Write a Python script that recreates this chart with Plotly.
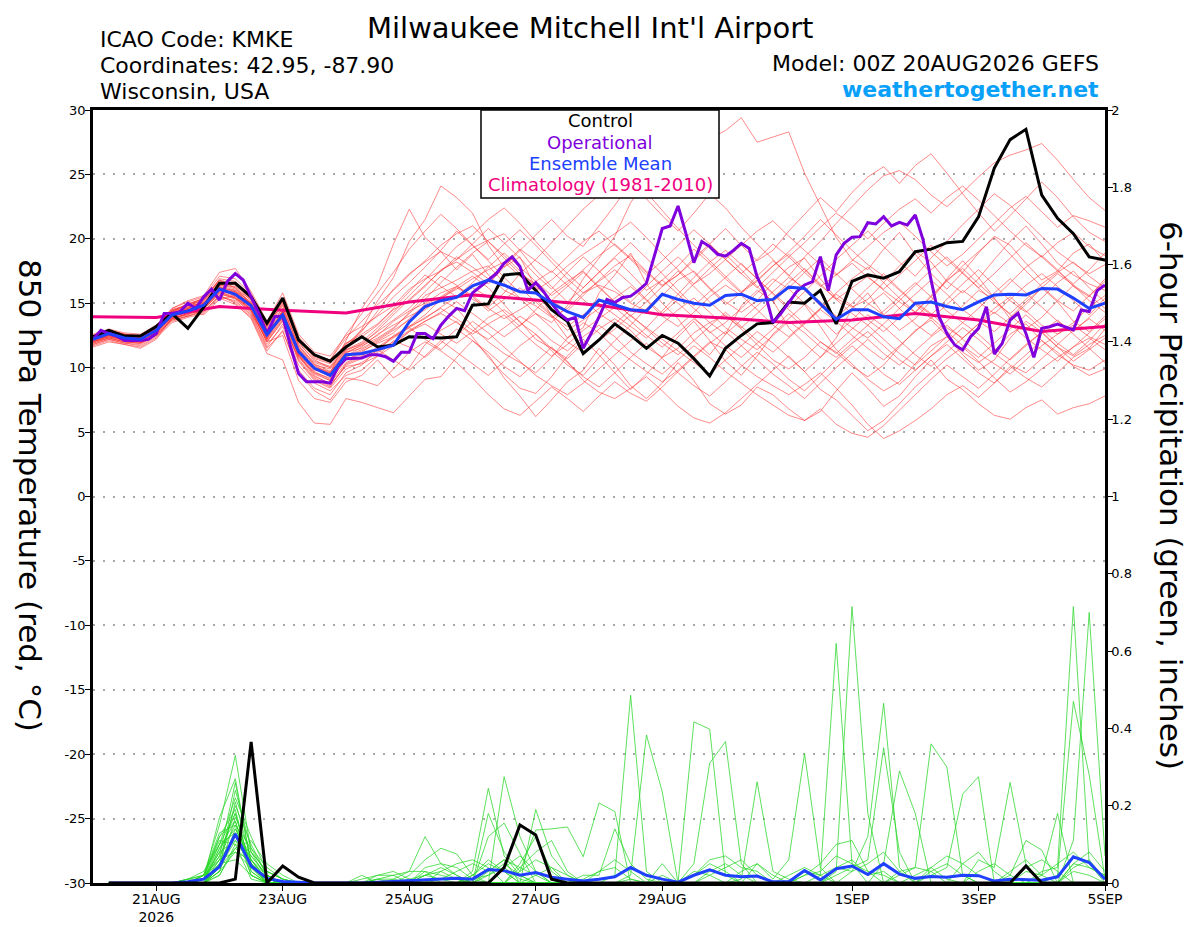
import datetime as dt
import plotly.graph_objects as go

# GEFS run start, 00Z 20 Aug 2026
run_start = dt.datetime(2026, 8, 20, 0)
run_end = dt.datetime(2026, 9, 5, 0)

# 850 hPa temperature (C), 6-hourly from 00Z 20 Aug (65 values)
control_t = [
    12.4, 12.9, 12.45, 12.45, 13.2, 14.2, 13.05, 14.7, 16.55, 16.55, 15.5, 13.45, 15.4, 12.15, 11.0, 10.5, 11.6,
    12.4, 11.6, 11.75, 12.4, 12.35, 12.3, 12.4, 14.85, 14.95, 17.2, 17.3, 16.0, 14.5, 13.6, 11.1, 12.15,
    13.4, 12.5, 11.5, 12.5, 11.9, 10.7, 9.35, 11.5, 12.5, 13.4, 13.5, 15.1, 15.0, 16.0, 13.4, 16.7,
    17.2, 16.95, 17.45, 19.0, 19.2, 19.7, 19.8, 21.7, 25.5, 27.7, 28.5, 23.4, 21.6, 20.4, 18.6, 18.35,
]
mean_t = [
    12.2, 12.65, 12.3, 12.2, 12.9, 14.1, 14.4, 14.85, 16.1, 15.7, 14.8, 12.55, 14.1, 11.25, 9.95, 9.4, 11.0,
    11.1, 11.4, 11.75, 13.55, 14.75, 15.2, 15.45, 16.35, 16.8, 16.4, 15.9, 15.8, 15.0, 14.35, 13.9, 15.25,
    14.85, 14.5, 14.4, 15.7, 15.3, 15.0, 14.85, 15.6, 15.7, 15.2, 15.3, 16.25, 16.15, 14.95, 13.75, 14.5,
    14.5, 13.95, 13.8, 15.0, 15.1, 14.75, 14.5, 15.1, 15.65, 15.7, 15.65, 16.15, 16.1, 15.4, 14.6, 15.0,
]
# operational run, 3-hourly (129 values)
oper_t = [
    12.2, 12.9, 12.65, 12.45, 12.1, 12.1, 12.1, 12.2, 12.65, 14.2, 14.2, 14.35, 15.0, 14.6, 15.5, 16.1,
    15.25, 16.7, 17.3, 16.8, 15.5, 14.2, 12.65, 13.95, 14.0, 11.6, 9.55, 8.9, 8.9, 8.9, 8.8, 10.1,
    10.7, 10.75, 10.75, 11.0, 11.0, 10.85, 10.5, 11.2, 11.2, 12.65, 12.65, 12.25, 13.3, 14.0, 14.6, 14.42,
    15.8, 16.3, 16.8, 17.3, 18.1, 18.6, 17.85, 16.0, 16.6, 15.9, 15.0, 14.2, 13.7, 13.9, 11.5, 12.65,
    13.95, 15.3, 15.05, 15.45, 15.55, 16.0, 16.55, 18.6, 20.8, 21.0, 22.55, 20.4, 18.15, 19.8, 19.4, 18.8,
    18.65, 19.1, 19.65, 19.25, 17.05, 15.8, 13.5, 14.2, 15.1, 15.9, 16.42, 16.68, 18.62, 15.98, 18.75, 19.65,
    20.12, 20.17, 21.25, 21.15, 21.72, 21.0, 21.28, 21.07, 21.85, 19.9, 16.8, 13.96, 12.66, 11.76, 11.37, 12.4,
    13.05, 14.73, 11.06, 11.89, 13.7, 14.22, 12.66, 10.8, 13.05, 13.18, 13.39, 13.18, 12.93, 14.48, 14.35, 15.98,
    16.42,
]
# 1981-2010 climatology, daily at 00Z (17 values)
climo_t = [13.95, 13.9, 14.75, 14.45, 14.25, 15.1, 15.65, 15.25, 14.85,
           14.1, 13.85, 13.5, 13.7, 14.2, 13.7, 12.8, 13.2]

# ensemble members, 6-hourly (30 x 65 values)
member_t = [
    [12.0, 12.4, 12.1, 12.0, 12.6, 14.3, 15.0, 15.3, 16.8, 16.2, 14.9, 12.9, 13.8, 11.9, 10.6, 10.0, 11.5,
     13.0, 15.2, 17.0, 19.8, 21.5, 24.1, 23.2, 22.0, 19.5, 17.8, 18.6, 16.2, 14.0, 12.3, 13.1, 15.8,
     17.2, 18.9, 16.5, 15.0, 13.8, 12.1, 11.0, 12.6, 14.8, 16.0, 15.2, 13.1, 11.9, 10.8, 12.3, 14.6,
     15.8, 14.1, 12.9, 13.8, 15.2, 16.9, 18.3, 17.0, 15.4, 13.8, 14.9, 16.2, 15.1, 13.6, 12.8, 14.0],
    [12.5, 12.9, 12.6, 12.4, 13.0, 13.8, 14.2, 14.6, 15.9, 15.4, 14.2, 12.2, 14.5, 11.0, 9.8, 9.6, 12.1,
     14.6, 16.4, 19.6, 22.3, 20.1, 19.0, 17.6, 18.8, 17.2, 16.0, 15.4, 14.2, 13.5, 14.8, 16.9, 18.5,
     20.2, 22.8, 24.5, 23.4, 25.6, 26.9, 27.8, 28.4, 29.4, 27.5, 27.9, 28.3, 25.1, 22.6, 20.1, 18.4,
     17.6, 19.2, 20.5, 18.8, 17.3, 16.1, 17.4, 18.9, 20.2, 19.5, 18.1, 16.8, 17.5, 18.9, 19.6, 18.2],
    [11.8, 12.2, 11.9, 11.7, 12.4, 13.6, 14.0, 14.3, 15.6, 15.0, 13.8, 11.1, 10.6, 7.3, 5.7, 5.6, 7.6,
     7.3, 6.9, 6.5, 7.8, 9.1, 9.3, 10.8, 12.1, 11.0, 9.2, 7.8, 6.2, 7.5, 8.9, 9.8, 11.5,
     10.2, 8.6, 7.6, 8.8, 10.4, 9.0, 7.2, 6.4, 7.1, 8.5, 7.9, 6.8, 5.9, 6.6, 8.2, 9.6,
     8.4, 7.0, 7.8, 9.3, 10.6, 9.1, 8.3, 7.2, 6.3, 6.0, 6.9, 7.5, 6.4, 6.9, 7.2, 7.8],
    [11.6, 12.0, 11.8, 11.5, 12.2, 13.9, 14.5, 14.1, 15.3, 15.6, 14.5, 12.0, 12.5, 9.0, 7.6, 7.3, 8.9,
     9.4, 10.6, 9.2, 10.0, 11.8, 12.9, 13.6, 12.4, 10.8, 9.5, 8.4, 8.0, 9.3, 10.9, 12.2, 11.0,
     9.6, 8.3, 9.5, 10.8, 12.4, 13.6, 12.1, 10.5, 9.4, 10.9, 12.6, 13.8, 14.9, 13.2, 11.4, 10.3,
     9.1, 8.2, 8.9, 10.3, 11.7, 12.4, 11.0, 9.8, 10.6, 12.3, 13.6, 12.8, 11.6, 10.9, 11.8, 12.5],
    [12.3, 12.8, 12.5, 12.3, 13.1, 14.2, 14.6, 15.1, 16.4, 16.0, 15.1, 13.0, 14.6, 11.8, 10.3, 9.7, 11.2,
     11.5, 12.2, 13.0, 14.3, 15.6, 16.2, 16.8, 17.5, 17.9, 16.6, 15.4, 14.8, 13.9, 14.6, 15.8, 16.4,
     15.9, 15.0, 14.4, 15.6, 16.8, 17.5, 16.2, 15.1, 14.3, 15.2, 16.6, 17.8, 18.5, 16.9, 15.4, 14.7,
     15.3, 16.6, 17.9, 19.0, 18.2, 16.7, 15.8, 16.9, 18.4, 19.8, 21.0, 19.6, 18.1, 17.2, 16.5, 16.0],
    [12.1, 12.5, 12.2, 12.1, 12.7, 14.0, 14.3, 14.7, 16.0, 15.9, 14.9, 12.4, 14.3, 11.0, 9.4, 8.7, 10.1,
     10.3, 10.9, 11.7, 12.8, 13.4, 12.6, 11.9, 12.8, 13.9, 14.5, 13.6, 12.2, 11.5, 10.7, 11.9, 13.0,
     13.8, 12.9, 11.6, 10.8, 11.5, 12.7, 13.5, 14.1, 13.0, 11.8, 10.6, 9.9, 10.8, 12.0, 11.2, 10.1,
     9.3, 10.2, 11.6, 12.9, 13.7, 12.5, 11.2, 10.4, 11.3, 12.6, 13.4, 12.1, 11.0, 10.2, 9.8, 10.6],
    [12.4, 12.7, 12.4, 12.3, 13.0, 14.4, 14.9, 15.4, 16.7, 16.4, 15.3, 13.4, 15.2, 12.3, 10.8, 10.4, 11.9,
     12.6, 13.4, 14.5, 15.2, 16.3, 17.6, 18.2, 17.4, 16.5, 17.8, 19.1, 20.3, 21.5, 20.2, 19.4, 21.0,
     22.6, 24.3, 23.1, 21.8, 20.6, 22.0, 23.5, 22.4, 20.9, 19.6, 18.4, 17.1, 18.6, 19.8, 21.2, 22.5,
     23.8, 24.9, 25.3, 24.6, 23.4, 22.5, 23.6, 24.8, 25.9, 26.5, 26.9, 27.4, 26.1, 24.6, 23.2, 22.2],
    [12.2, 12.6, 12.3, 12.2, 12.8, 13.9, 14.1, 14.9, 16.3, 15.5, 14.4, 12.0, 13.7, 10.6, 9.1, 8.5, 10.3,
     10.8, 11.3, 12.5, 13.2, 14.1, 15.3, 14.6, 13.2, 12.0, 11.1, 10.4, 9.6, 10.8, 12.3, 13.5, 12.7,
     11.5, 10.6, 9.7, 8.9, 9.8, 10.9, 12.0, 11.4, 10.2, 9.3, 8.6, 7.9, 8.7, 9.6, 8.4, 7.1,
     5.6, 4.5, 5.1, 5.9, 6.8, 7.9, 8.6, 7.7, 8.8, 10.1, 9.2, 8.5, 9.6, 10.8, 11.5, 10.4],
    [12.6, 13.0, 12.7, 12.6, 13.3, 14.5, 14.8, 15.0, 16.1, 15.8, 15.0, 12.8, 14.0, 11.5, 10.2, 9.5, 11.3,
     11.9, 12.8, 13.7, 14.6, 15.9, 17.1, 16.4, 15.3, 14.7, 15.8, 17.3, 16.5, 15.2, 14.4, 15.6, 16.8,
     17.9, 18.7, 17.5, 16.4, 17.2, 18.5, 19.6, 20.8, 19.5, 18.3, 19.1, 20.6, 21.9, 23.2, 22.1, 23.6,
     24.8, 25.6, 24.3, 25.7, 26.6, 25.1, 23.5, 22.0, 20.6, 21.8, 23.1, 24.4, 23.2, 21.7, 20.5, 19.8],
    [12.0, 12.3, 12.0, 11.9, 12.5, 13.7, 14.0, 14.5, 15.8, 15.3, 14.3, 11.6, 13.4, 10.8, 9.6, 9.0, 10.6,
     11.2, 12.0, 12.7, 13.8, 14.9, 15.5, 16.3, 17.1, 16.2, 14.9, 13.5, 12.6, 11.3, 10.2, 9.4, 10.8,
     12.1, 13.3, 14.6, 15.8, 15.0, 13.9, 12.7, 13.5, 14.6, 15.8, 16.9, 16.1, 15.0, 13.8, 12.6, 13.7,
     14.9, 15.8, 14.6, 13.4, 12.5, 13.6, 14.8, 16.0, 15.3, 14.1, 13.0, 13.9, 15.2, 16.4, 15.6, 14.6],
    [12.3, 12.7, 12.4, 12.4, 13.2, 14.6, 15.2, 15.6, 17.4, 17.7, 15.9, 13.6, 15.8, 12.6, 11.2, 10.9, 12.5,
     13.2, 14.0, 14.8, 16.1, 16.9, 17.5, 18.4, 19.3, 19.9, 20.4, 19.1, 17.6, 16.3, 15.1, 16.2, 17.4,
     18.5, 17.3, 16.0, 16.8, 17.9, 19.2, 18.1, 16.9, 15.8, 16.7, 17.9, 18.8, 17.6, 16.4, 15.3, 16.2,
     17.1, 16.0, 15.1, 14.3, 15.6, 16.8, 17.7, 16.5, 15.4, 16.6, 17.8, 18.7, 17.6, 16.3, 15.5, 16.9],
    [11.9, 12.3, 12.0, 11.9, 12.6, 13.8, 14.2, 14.4, 15.5, 15.2, 14.1, 11.8, 13.2, 10.2, 8.8, 8.2, 9.4,
     9.8, 10.9, 12.1, 11.6, 10.8, 11.9, 13.0, 12.1, 11.2, 10.1, 9.3, 10.4, 11.6, 10.5, 9.0, 8.1,
     7.6, 8.4, 9.3, 8.2, 7.0, 6.1, 5.7, 6.5, 7.6, 8.7, 9.8, 10.9, 9.7, 8.3, 7.5, 6.3,
     5.1, 5.9, 7.2, 8.5, 9.6, 10.7, 11.6, 10.5, 9.2, 8.1, 8.9, 9.9, 10.8, 11.6, 12.3, 11.4],
    [12.2, 12.5, 12.2, 12.1, 12.8, 14.1, 14.4, 14.7, 15.9, 15.8, 14.9, 12.5, 14.4, 11.3, 9.9, 9.3, 10.8,
     11.3, 11.9, 12.4, 13.2, 13.8, 14.7, 15.5, 16.2, 15.5, 14.3, 13.2, 14.5, 15.8, 16.7, 17.5, 16.3,
     15.1, 14.0, 13.1, 14.4, 15.7, 17.0, 18.2, 19.1, 18.0, 16.9, 15.8, 14.7, 15.9, 17.1, 18.4, 19.5,
     20.6, 19.4, 18.2, 17.1, 18.5, 19.8, 21.1, 22.3, 23.5, 22.6, 21.4, 20.2, 19.0, 18.1, 17.3, 18.0],
    [12.4, 12.8, 12.5, 12.4, 13.1, 14.3, 14.6, 15.2, 16.5, 16.1, 15.3, 13.1, 14.8, 11.7, 10.2, 9.9, 11.4,
     11.8, 12.5, 13.6, 14.4, 15.0, 15.8, 16.3, 15.6, 14.6, 13.8, 14.5, 15.3, 14.1, 12.9, 13.7, 14.6,
     15.4, 16.3, 15.2, 14.0, 13.2, 14.3, 15.5, 16.4, 15.6, 14.5, 13.3, 12.4, 13.5, 14.6, 15.7, 14.8,
     13.7, 12.8, 13.9, 15.1, 14.2, 13.1, 12.3, 13.4, 14.6, 15.5, 14.4, 13.3, 12.6, 13.5, 14.7, 15.6],
    [11.7, 12.1, 11.8, 11.6, 12.3, 13.5, 13.9, 14.2, 15.4, 14.9, 13.9, 11.3, 12.9, 9.6, 8.2, 7.5, 9.2,
     9.0, 8.6, 9.9, 11.2, 12.0, 11.3, 10.4, 9.2, 7.9, 6.8, 6.3, 7.4, 8.5, 7.6, 6.6, 7.8,
     8.9, 8.0, 7.4, 8.5, 9.7, 10.8, 11.9, 12.8, 11.7, 10.6, 9.5, 8.6, 7.6, 8.8, 10.0, 11.1,
     12.2, 11.1, 10.2, 11.3, 12.4, 13.3, 12.2, 11.1, 10.3, 9.5, 10.6, 11.7, 12.6, 13.3, 12.4, 11.8],
    [12.1, 12.4, 12.2, 12.0, 12.7, 13.9, 14.6, 15.0, 16.2, 16.0, 15.0, 12.7, 14.1, 11.1, 9.7, 9.1, 10.9,
     11.6, 12.6, 13.3, 14.0, 14.6, 15.4, 16.1, 16.9, 17.6, 18.2, 17.1, 16.0, 16.8, 17.9, 18.8, 19.6,
     20.4, 21.3, 20.1, 18.8, 17.6, 16.5, 17.3, 18.4, 19.5, 20.6, 21.4, 20.2, 19.1, 18.0, 17.2, 18.3,
     19.4, 20.5, 21.3, 20.2, 19.0, 17.9, 18.8, 20.0, 21.2, 22.4, 23.3, 22.1, 20.9, 21.8, 21.4, 20.9],
    [12.0, 12.5, 12.1, 12.0, 12.6, 13.8, 14.1, 14.6, 15.7, 15.4, 14.6, 12.2, 13.9, 10.9, 9.3, 8.8, 10.4,
     10.9, 11.6, 12.4, 13.1, 13.9, 14.6, 13.8, 12.9, 12.2, 13.1, 14.0, 13.2, 12.1, 11.3, 12.4, 13.3,
     12.4, 11.2, 10.3, 9.5, 10.6, 11.7, 10.8, 9.7, 8.8, 7.9, 7.1, 6.3, 5.9, 6.8, 5.6, 4.9,
     4.6, 5.5, 6.7, 7.9, 9.1, 10.2, 9.3, 8.4, 9.5, 10.7, 11.8, 12.7, 11.6, 10.5, 11.4, 12.3],
    [12.5, 12.9, 12.6, 12.5, 13.3, 14.4, 14.7, 15.3, 16.6, 16.6, 15.6, 13.3, 14.9, 12.0, 10.5, 10.1, 11.8,
     12.9, 14.1, 15.5, 16.6, 17.8, 19.1, 20.6, 19.5, 18.3, 17.0, 15.8, 16.7, 17.5, 16.4, 15.3, 14.2,
     13.4, 14.5, 15.6, 16.8, 15.7, 14.6, 13.5, 12.6, 13.7, 14.8, 15.9, 17.0, 16.2, 15.1, 14.0, 13.1,
     12.3, 13.4, 14.6, 15.7, 16.8, 15.7, 14.5, 13.6, 12.8, 13.9, 15.1, 16.2, 17.3, 16.4, 15.2, 14.3],
    [12.2, 12.6, 12.3, 12.2, 13.0, 14.2, 14.5, 14.8, 16.0, 15.6, 14.7, 12.3, 14.2, 10.9, 9.5, 9.0, 10.7,
     11.0, 11.4, 12.0, 12.9, 13.6, 14.2, 13.5, 12.6, 13.4, 14.1, 12.9, 11.8, 10.9, 11.8, 12.9, 13.8,
     14.7, 13.6, 12.5, 11.6, 12.7, 13.8, 12.8, 11.7, 10.8, 11.9, 13.0, 14.2, 13.1, 12.0, 11.1, 12.2,
     13.3, 12.2, 11.1, 10.2, 11.3, 12.4, 13.5, 12.6, 11.5, 10.6, 11.7, 12.8, 13.7, 12.6, 11.5, 13.0],
    [12.3, 12.7, 12.4, 12.3, 13.0, 14.2, 14.7, 15.1, 16.3, 15.9, 14.9, 12.8, 14.4, 11.4, 10.1, 9.6, 11.2,
     11.7, 12.3, 13.1, 14.2, 15.3, 16.6, 17.8, 18.9, 19.8, 18.5, 17.3, 18.4, 19.7, 21.0, 22.3, 23.4,
     24.1, 24.9, 23.6, 22.2, 20.8, 19.5, 18.3, 17.1, 15.9, 16.8, 17.9, 19.0, 20.2, 21.5, 20.3, 19.1,
     18.0, 17.1, 16.0, 14.9, 13.8, 14.9, 16.0, 15.1, 14.2, 15.3, 16.4, 17.3, 16.3, 15.2, 14.1, 15.4],
    [12.2, 12.6, 12.2, 12.1, 12.9, 14.0, 14.6, 15.0, 16.4, 16.3, 15.2, 12.9, 14.6, 11.6, 10.4, 10.0, 11.6,
     12.8, 14.4, 16.1, 17.3, 18.2, 19.0, 18.4, 19.6, 20.8, 19.7, 18.5, 17.2, 16.1, 17.4, 18.6, 17.5,
     16.2, 15.1, 16.3, 17.5, 18.6, 17.4, 16.1, 14.9, 15.8, 17.1, 18.3, 17.2, 16.0, 14.8, 13.9, 15.0,
     16.2, 17.3, 16.1, 15.0, 14.1, 15.3, 16.5, 17.6, 16.4, 15.2, 14.3, 15.4, 16.6, 17.5, 16.2, 15.1],
    [12.4, 12.8, 12.5, 12.3, 13.1, 14.5, 14.9, 15.2, 16.6, 16.2, 15.0, 12.6, 14.3, 11.5, 10.0, 9.7, 11.4,
     12.0, 13.1, 14.3, 15.6, 16.8, 18.1, 19.4, 20.3, 21.5, 22.4, 21.2, 19.8, 18.5, 17.3, 16.2, 17.4,
     18.6, 19.7, 18.5, 17.3, 16.0, 14.8, 15.9, 17.0, 18.1, 16.9, 15.7, 14.5, 13.4, 14.6, 15.8, 16.9,
     17.8, 16.6, 15.4, 14.3, 15.5, 16.7, 17.9, 19.0, 20.1, 18.8, 17.5, 16.3, 15.2, 14.4, 15.6, 16.7],
    [11.9, 12.3, 12.0, 11.9, 12.5, 13.7, 14.0, 14.4, 15.6, 15.1, 14.0, 11.5, 12.8, 9.8, 8.4, 7.9, 9.6,
     10.2, 11.4, 10.6, 9.8, 10.9, 12.1, 11.2, 10.3, 9.4, 10.5, 11.7, 12.6, 11.5, 10.4, 9.3, 8.5,
     9.6, 10.8, 11.9, 10.7, 9.6, 8.6, 7.8, 8.9, 10.1, 11.2, 10.3, 9.1, 8.2, 9.4, 10.6, 11.7,
     10.6, 9.5, 8.7, 9.8, 10.9, 11.8, 10.7, 9.6, 8.8, 9.9, 11.0, 12.1, 11.2, 10.1, 9.4, 9.9],
    [12.3, 12.6, 12.3, 12.2, 13.0, 14.3, 14.8, 15.3, 16.9, 16.7, 15.5, 13.2, 15.0, 12.1, 10.9, 10.6, 12.6,
     14.2, 15.8, 17.4, 19.2, 20.6, 21.9, 20.8, 19.5, 18.4, 19.6, 20.7, 19.5, 18.2, 16.9, 15.8, 16.7,
     17.6, 16.5, 15.3, 14.2, 15.3, 16.5, 17.7, 18.8, 17.6, 16.3, 15.1, 16.2, 17.4, 18.5, 17.3, 16.1,
     15.0, 14.1, 15.2, 16.4, 17.6, 18.6, 17.4, 16.2, 15.1, 14.2, 15.3, 16.5, 17.4, 18.2, 17.1, 16.2],
    [12.1, 12.5, 12.2, 12.0, 12.8, 14.1, 14.5, 14.9, 16.2, 15.6, 14.6, 12.3, 14.0, 11.0, 9.6, 9.2, 10.9,
     11.4, 12.1, 12.9, 13.7, 14.5, 15.4, 16.2, 15.5, 14.4, 15.3, 16.2, 15.1, 14.0, 13.2, 14.1, 15.0,
     14.1, 13.2, 12.3, 13.4, 14.5, 15.4, 14.3, 13.1, 12.2, 11.4, 12.5, 13.6, 12.7, 11.6, 10.8, 11.9,
     12.8, 11.7, 10.6, 9.8, 10.9, 12.0, 13.1, 12.2, 11.1, 10.2, 9.6, 10.7, 11.8, 12.9, 13.8, 12.9],
    [12.2, 12.7, 12.4, 12.3, 13.0, 14.2, 14.5, 15.0, 16.2, 15.9, 14.9, 12.7, 14.3, 11.3, 10.0, 9.5, 11.1,
     11.8, 12.9, 14.1, 15.3, 16.4, 17.5, 18.6, 17.8, 16.9, 18.0, 19.2, 18.3, 17.4, 18.6, 19.8, 20.6,
     19.5, 18.4, 17.2, 18.3, 19.5, 20.7, 19.6, 18.4, 17.3, 16.2, 17.4, 18.6, 19.7, 20.9, 22.0, 21.1,
     20.0, 21.2, 22.3, 23.1, 22.0, 23.2, 24.1, 23.0, 21.8, 20.6, 19.5, 18.6, 19.7, 20.5, 19.4, 18.7],
    [12.0, 12.4, 12.1, 12.0, 12.7, 13.9, 14.3, 14.7, 15.9, 15.5, 14.5, 12.1, 13.8, 10.7, 9.2, 8.6, 10.2,
     10.7, 11.5, 12.3, 13.1, 12.2, 11.4, 12.5, 13.6, 12.7, 11.6, 10.5, 9.4, 8.6, 7.9, 8.8, 9.9,
     11.0, 12.1, 13.1, 12.2, 11.3, 10.4, 9.5, 10.6, 11.7, 12.8, 11.9, 10.8, 9.7, 10.8, 11.9, 13.0,
     14.1, 13.2, 12.1, 11.0, 10.1, 11.2, 12.3, 13.4, 14.3, 13.4, 12.3, 11.4, 10.5, 11.6, 12.7, 13.8],
    [12.5, 12.9, 12.6, 12.5, 13.2, 14.4, 14.9, 15.4, 16.8, 16.5, 15.4, 13.2, 15.1, 12.2, 10.7, 10.3, 11.9,
     12.4, 13.3, 14.6, 15.9, 17.2, 16.3, 15.5, 16.6, 17.8, 18.9, 17.8, 16.7, 15.6, 16.5, 17.6, 18.7,
     19.6, 18.5, 17.4, 16.3, 17.2, 18.3, 19.5, 18.4, 17.3, 18.4, 19.6, 18.6, 17.4, 16.3, 17.2, 18.1,
     17.0, 16.1, 17.2, 18.3, 19.5, 18.4, 17.3, 16.2, 17.3, 18.5, 19.7, 18.6, 17.5, 16.5, 17.6, 18.9],
    [11.8, 12.2, 11.9, 11.8, 12.5, 13.8, 14.2, 14.6, 15.8, 15.4, 14.4, 12.0, 13.6, 10.5, 9.0, 8.4, 9.9,
     10.4, 11.2, 11.9, 12.8, 13.6, 14.3, 15.1, 14.2, 13.3, 12.4, 13.3, 14.2, 13.1, 12.0, 11.2, 12.1,
     13.0, 14.1, 13.0, 11.9, 11.0, 12.1, 13.2, 14.3, 13.2, 12.1, 11.2, 12.3, 13.4, 14.5, 13.6, 12.5,
     11.5, 10.6, 11.7, 12.8, 13.9, 12.8, 11.7, 10.8, 11.9, 13.0, 14.1, 13.0, 11.9, 11.0, 12.1, 13.4],
    [12.4, 12.8, 12.5, 12.4, 13.2, 14.6, 15.1, 15.5, 17.1, 16.9, 15.7, 13.5, 15.4, 12.4, 11.0, 10.6, 12.3,
     13.6, 14.9, 16.0, 17.2, 18.3, 19.5, 20.4, 21.0, 19.8, 18.7, 17.5, 16.3, 15.2, 16.3, 17.4, 16.2,
     15.1, 14.0, 15.1, 16.3, 17.5, 16.3, 15.1, 14.0, 13.1, 14.2, 15.4, 16.6, 17.7, 16.5, 15.3, 14.2,
     13.3, 14.4, 15.5, 16.6, 15.5, 14.4, 13.5, 14.6, 15.8, 16.9, 15.8, 14.7, 13.6, 12.8, 13.9, 15.1],
]

# 6-hour precipitation (inches), periods ending 06Z 20 Aug .. 00Z 5 Sep (64 values)
control_p = [
    0, 0, 0, 0, 0, 0, 0, 0, 0.01, 0.365, 0, 0.044, 0.015, 0, 0, 0,
    0, 0, 0, 0, 0, 0, 0, 0, 0, 0.04, 0.15, 0.124, 0.01, 0, 0, 0,
    0, 0, 0, 0, 0, 0, 0, 0, 0, 0, 0, 0, 0, 0, 0, 0,
    0, 0, 0, 0, 0, 0, 0, 0, 0, 0, 0.044, 0, 0, 0, 0, 0,
]
mean_p = [
    0, 0, 0, 0, 0, 0.003, 0.01, 0.042, 0.127, 0.044, 0.012, 0.004, 0.002, 0, 0, 0,
    0, 0.002, 0.004, 0.005, 0.008, 0.01, 0.012, 0.01, 0.035, 0.032, 0.02, 0.027, 0.015, 0.01, 0.005, 0.01,
    0.016, 0.04, 0.02, 0.01, 0.002, 0.02, 0.034, 0.02, 0.016, 0.018, 0.003, 0.003, 0.032, 0.008, 0.037, 0.044,
    0.022, 0.05, 0.023, 0.012, 0.017, 0.015, 0.02, 0.019, 0.005, 0.01, 0.008, 0.007, 0.016, 0.068, 0.053, 0.01,
]
member_p = [
    [0, 0, 0, 0, 0, 0, 0.02, 0.15, 0.33, 0.08, 0.01, 0, 0, 0, 0, 0,
     0, 0, 0.01, 0.03, 0.12, 0.05, 0.02, 0, 0, 0, 0, 0, 0, 0, 0, 0,
     0, 0, 0, 0, 0, 0, 0, 0, 0, 0, 0, 0, 0.02, 0.05, 0.10, 0.11,
     0.03, 0.02, 0, 0, 0, 0, 0, 0, 0, 0, 0, 0, 0, 0, 0, 0],
    [0, 0, 0, 0, 0, 0.01, 0.01, 0.17, 0.27, 0.05, 0, 0, 0, 0, 0, 0,
     0, 0, 0, 0, 0, 0, 0, 0.03, 0.245, 0.07, 0.02, 0, 0, 0, 0, 0,
     0, 0, 0, 0.05, 0, 0, 0, 0, 0, 0, 0, 0, 0, 0, 0, 0,
     0, 0, 0, 0.02, 0.04, 0.01, 0, 0, 0, 0, 0, 0, 0, 0, 0, 0],
    [0, 0, 0, 0, 0, 0.01, 0.03, 0.10, 0.22, 0.12, 0.03, 0.01, 0, 0, 0, 0,
     0.01, 0.02, 0.02, 0, 0, 0, 0, 0, 0, 0, 0, 0, 0, 0, 0.02, 0.02,
     0.14, 0.05, 0.01, 0, 0, 0, 0, 0, 0, 0, 0, 0, 0, 0, 0, 0,
     0, 0, 0, 0, 0, 0, 0.05, 0.08, 0.03, 0, 0, 0, 0, 0, 0, 0],
    [0, 0, 0, 0, 0, 0, 0, 0.06, 0.20, 0.10, 0.02, 0, 0, 0, 0, 0,
     0, 0, 0, 0.02, 0.06, 0.09, 0.075, 0.02, 0, 0, 0, 0, 0, 0, 0, 0,
     0, 0, 0, 0.02, 0, 0.417, 0.398, 0.02, 0, 0, 0, 0, 0, 0, 0, 0,
     0, 0, 0, 0, 0, 0, 0, 0, 0, 0, 0, 0, 0, 0.03, 0.02, 0],
    [0, 0, 0, 0, 0, 0, 0.01, 0.08, 0.18, 0.04, 0, 0, 0, 0, 0, 0,
     0, 0, 0, 0, 0, 0, 0, 0, 0, 0.275, 0.12, 0.03, 0, 0, 0, 0,
     0, 0, 0, 0, 0, 0, 0, 0, 0, 0, 0, 0, 0, 0, 0, 0.03,
     0.12, 0.465, 0.04, 0, 0, 0, 0, 0, 0, 0, 0, 0, 0, 0, 0, 0],
    [0, 0, 0, 0, 0, 0, 0.02, 0.13, 0.15, 0.02, 0, 0, 0, 0, 0, 0,
     0, 0, 0, 0, 0, 0.03, 0.05, 0.06, 0.04, 0, 0, 0, 0, 0, 0, 0,
     0, 0, 0, 0, 0, 0.05, 0.31, 0.366, 0.05, 0, 0, 0, 0, 0, 0, 0,
     0, 0, 0, 0, 0, 0, 0, 0, 0, 0, 0, 0, 0, 0.05, 0.04, 0.02],
    [0, 0, 0, 0, 0, 0, 0, 0.04, 0.24, 0.09, 0.04, 0.01, 0, 0, 0, 0,
     0, 0.01, 0, 0, 0, 0, 0, 0, 0, 0, 0, 0.19, 0.07, 0.02, 0, 0,
     0, 0, 0, 0, 0, 0, 0, 0, 0, 0, 0, 0, 0, 0, 0, 0,
     0, 0, 0, 0, 0.02, 0.04, 0.23, 0.275, 0, 0, 0, 0, 0, 0, 0, 0],
    [0, 0, 0, 0, 0, 0, 0.01, 0.05, 0.12, 0.06, 0.01, 0, 0, 0, 0, 0,
     0.02, 0, 0, 0, 0, 0, 0, 0, 0, 0, 0, 0, 0, 0, 0.01, 0.03,
     0.04, 0.01, 0, 0, 0, 0, 0, 0, 0, 0, 0, 0, 0, 0, 0, 0,
     0, 0, 0, 0, 0, 0, 0, 0.06, 0.04, 0.26, 0.05, 0, 0, 0, 0, 0],
    [0, 0, 0, 0, 0, 0, 0, 0.09, 0.16, 0.03, 0, 0, 0, 0, 0, 0,
     0, 0, 0, 0, 0, 0, 0, 0, 0.12, 0.155, 0.076, 0, 0, 0, 0, 0,
     0, 0, 0, 0, 0, 0, 0, 0, 0.01, 0.262, 0.03, 0.01, 0, 0, 0, 0,
     0, 0, 0, 0, 0, 0, 0, 0, 0, 0, 0, 0, 0, 0.11, 0.70, 0.07],
    [0, 0, 0, 0, 0, 0.01, 0.02, 0.11, 0.10, 0.01, 0, 0, 0, 0, 0, 0,
     0, 0, 0, 0, 0.04, 0.05, 0.04, 0.01, 0, 0, 0, 0, 0, 0, 0, 0,
     0, 0, 0, 0, 0, 0.02, 0.06, 0.07, 0.04, 0.03, 0, 0, 0, 0, 0, 0,
     0, 0, 0, 0, 0, 0, 0, 0, 0, 0.02, 0.11, 0.085, 0, 0, 0, 0],
    [0, 0, 0, 0, 0, 0, 0, 0.03, 0.14, 0.07, 0.02, 0, 0, 0, 0, 0,
     0, 0, 0, 0, 0, 0, 0, 0, 0.18, 0.08, 0.03, 0.137, 0.14, 0.145, 0.068, 0.207,
     0.185, 0, 0, 0, 0, 0, 0, 0, 0, 0, 0, 0, 0, 0, 0, 0,
     0, 0, 0, 0, 0, 0, 0, 0, 0, 0, 0, 0, 0, 0, 0, 0],
    [0, 0, 0, 0, 0, 0, 0.01, 0.07, 0.26, 0.05, 0.01, 0, 0, 0, 0, 0,
     0, 0.02, 0.03, 0.01, 0, 0, 0, 0, 0, 0, 0, 0, 0, 0, 0, 0,
     0.02, 0.486, 0.03, 0, 0, 0, 0, 0, 0, 0, 0, 0, 0, 0, 0, 0,
     0, 0, 0, 0, 0, 0, 0, 0, 0, 0, 0, 0, 0.02, 0.47, 0.28, 0.01],
    [0, 0, 0, 0, 0, 0, 0, 0.02, 0.09, 0.11, 0.05, 0.02, 0, 0, 0, 0,
     0, 0, 0, 0, 0, 0.01, 0.03, 0.05, 0.03, 0.06, 0, 0, 0, 0, 0, 0,
     0, 0, 0, 0, 0, 0, 0, 0, 0, 0.05, 0.01, 0.06, 0.335, 0.04, 0, 0,
     0, 0, 0, 0, 0, 0, 0, 0, 0, 0, 0, 0, 0, 0, 0, 0],
    [0, 0, 0, 0, 0, 0, 0.01, 0.12, 0.19, 0.03, 0, 0, 0, 0, 0, 0,
     0, 0, 0, 0, 0, 0, 0, 0.02, 0.06, 0.03, 0, 0, 0, 0, 0, 0,
     0, 0, 0, 0, 0, 0, 0, 0, 0, 0, 0, 0, 0.03, 0.02, 0.62, 0.05,
     0, 0, 0, 0, 0, 0, 0, 0, 0, 0, 0, 0, 0, 0, 0, 0],
    [0, 0, 0, 0, 0, 0, 0.02, 0.06, 0.08, 0.04, 0.01, 0, 0, 0, 0, 0,
     0, 0.01, 0.02, 0.03, 0.03, 0, 0, 0, 0, 0, 0, 0, 0, 0, 0, 0,
     0, 0.02, 0.383, 0.236, 0, 0, 0, 0, 0, 0, 0, 0, 0, 0, 0, 0,
     0, 0, 0, 0, 0, 0, 0, 0, 0, 0, 0.03, 0.02, 0.18, 0, 0, 0],
    [0, 0, 0, 0, 0, 0, 0, 0.04, 0.21, 0.06, 0, 0, 0, 0, 0, 0,
     0, 0, 0, 0, 0, 0, 0, 0, 0, 0, 0.05, 0.12, 0.03, 0, 0, 0,
     0, 0, 0, 0, 0, 0, 0, 0, 0, 0, 0, 0, 0, 0, 0.02, 0.04,
     0.06, 0.35, 0.08, 0, 0, 0, 0, 0, 0, 0, 0, 0, 0, 0, 0, 0],
    [0, 0, 0, 0, 0, 0, 0.01, 0.10, 0.13, 0.02, 0, 0, 0, 0, 0, 0,
     0, 0, 0, 0, 0.02, 0.04, 0.02, 0, 0, 0, 0, 0, 0, 0, 0, 0,
     0, 0.01, 0, 0, 0, 0, 0.02, 0.04, 0.06, 0.02, 0, 0, 0, 0, 0, 0,
     0, 0, 0, 0, 0, 0, 0, 0, 0, 0, 0, 0.03, 0.04, 0.715, 0.05, 0],
    [0, 0, 0, 0, 0, 0, 0, 0.03, 0.17, 0.08, 0.03, 0.01, 0, 0, 0, 0,
     0, 0, 0, 0, 0, 0, 0, 0, 0, 0, 0.04, 0.08, 0.11, 0.03, 0, 0,
     0, 0, 0, 0, 0, 0, 0, 0, 0, 0, 0, 0, 0, 0, 0.03, 0.715,
     0.18, 0, 0, 0, 0, 0, 0, 0, 0, 0, 0, 0, 0, 0, 0, 0],
    [0, 0, 0, 0, 0, 0, 0.01, 0.08, 0.11, 0.05, 0.01, 0, 0, 0, 0, 0,
     0, 0, 0, 0, 0, 0, 0, 0.01, 0.02, 0.04, 0.01, 0, 0, 0, 0, 0,
     0, 0, 0, 0, 0, 0, 0, 0, 0, 0, 0, 0, 0, 0, 0, 0,
     0, 0.05, 0.29, 0.18, 0, 0, 0, 0, 0, 0, 0, 0, 0, 0, 0, 0],
    [0, 0, 0, 0, 0, 0, 0, 0.05, 0.06, 0.02, 0, 0, 0, 0, 0, 0,
     0, 0, 0, 0, 0, 0, 0, 0, 0, 0, 0, 0.02, 0.04, 0.02, 0, 0,
     0, 0, 0, 0, 0, 0, 0, 0, 0, 0, 0, 0, 0, 0, 0, 0,
     0, 0, 0.03, 0.04, 0.36, 0.30, 0.02, 0, 0, 0, 0, 0, 0, 0, 0, 0],
    [0, 0, 0, 0, 0, 0, 0.01, 0.09, 0.14, 0.06, 0.01, 0, 0, 0, 0, 0,
     0, 0, 0, 0, 0, 0, 0, 0.02, 0.05, 0.03, 0, 0, 0, 0, 0, 0,
     0, 0, 0, 0, 0, 0, 0, 0, 0, 0, 0, 0, 0, 0, 0.04, 0.06,
     0.02, 0.03, 0, 0, 0, 0, 0, 0, 0, 0, 0, 0, 0, 0, 0, 0],
    [0, 0, 0, 0, 0, 0, 0, 0.04, 0.11, 0.07, 0.02, 0, 0, 0, 0, 0,
     0, 0, 0, 0, 0, 0, 0, 0, 0, 0, 0.03, 0.06, 0.04, 0, 0, 0,
     0, 0, 0, 0, 0, 0, 0, 0, 0, 0, 0, 0, 0, 0, 0, 0,
     0, 0, 0, 0, 0.03, 0.05, 0.02, 0, 0, 0, 0, 0, 0, 0.04, 0.06, 0.01],
    [0, 0, 0, 0, 0, 0.01, 0.02, 0.12, 0.16, 0.04, 0.01, 0, 0, 0, 0, 0,
     0, 0.01, 0.01, 0, 0, 0, 0, 0, 0, 0, 0, 0, 0, 0, 0, 0.03,
     0.06, 0.03, 0, 0, 0, 0.02, 0.05, 0.03, 0, 0, 0, 0, 0, 0, 0, 0,
     0, 0, 0, 0, 0, 0, 0, 0.03, 0.05, 0.02, 0, 0, 0, 0, 0, 0],
    [0, 0, 0, 0, 0, 0, 0, 0.05, 0.13, 0.05, 0.01, 0, 0, 0, 0, 0,
     0, 0, 0, 0, 0.02, 0.03, 0.01, 0, 0, 0, 0, 0, 0, 0, 0, 0,
     0, 0, 0, 0, 0, 0, 0, 0, 0, 0, 0, 0, 0, 0.02, 0.04, 0.03,
     0.05, 0.08, 0.03, 0, 0, 0, 0, 0, 0, 0, 0, 0, 0, 0, 0, 0],
    [0, 0, 0, 0, 0, 0, 0.01, 0.07, 0.15, 0.09, 0.02, 0, 0, 0, 0, 0,
     0, 0, 0, 0, 0, 0, 0, 0, 0, 0, 0, 0, 0, 0, 0, 0,
     0, 0, 0, 0, 0, 0, 0.03, 0.05, 0.02, 0, 0, 0, 0, 0, 0, 0,
     0, 0, 0, 0, 0, 0, 0, 0, 0, 0, 0.04, 0.06, 0.03, 0, 0, 0],
    [0, 0, 0, 0, 0, 0, 0, 0.02, 0.10, 0.08, 0.03, 0.01, 0, 0, 0, 0,
     0, 0, 0, 0, 0, 0, 0, 0, 0, 0.04, 0.07, 0.03, 0, 0, 0, 0,
     0, 0, 0, 0, 0, 0, 0, 0, 0, 0, 0, 0, 0, 0, 0, 0,
     0, 0, 0, 0, 0.04, 0.07, 0.05, 0.02, 0, 0, 0, 0, 0, 0, 0, 0],
    [0, 0, 0, 0, 0, 0, 0.01, 0.06, 0.12, 0.05, 0, 0, 0, 0, 0, 0,
     0, 0, 0, 0.01, 0.02, 0.01, 0, 0, 0, 0, 0, 0, 0, 0, 0, 0,
     0, 0, 0, 0, 0, 0, 0, 0, 0.03, 0.05, 0.02, 0, 0, 0, 0, 0,
     0, 0, 0, 0, 0, 0, 0, 0, 0, 0.03, 0.06, 0.02, 0, 0.05, 0.08, 0.03],
    [0, 0, 0, 0, 0, 0, 0, 0.03, 0.08, 0.06, 0.02, 0, 0, 0, 0, 0,
     0, 0, 0, 0, 0, 0, 0, 0, 0.02, 0.05, 0.02, 0, 0, 0, 0, 0,
     0, 0, 0, 0, 0, 0, 0, 0, 0, 0, 0, 0, 0.02, 0.03, 0.07, 0.05,
     0.03, 0, 0, 0, 0, 0, 0, 0, 0, 0, 0, 0, 0, 0, 0, 0],
    [0, 0, 0, 0, 0, 0, 0.02, 0.10, 0.18, 0.04, 0, 0, 0, 0, 0, 0,
     0, 0, 0, 0, 0.03, 0.02, 0.01, 0, 0, 0, 0, 0, 0, 0, 0, 0,
     0, 0, 0, 0, 0, 0.03, 0.02, 0, 0, 0, 0, 0, 0, 0, 0, 0,
     0, 0, 0, 0, 0, 0, 0, 0, 0, 0, 0, 0.02, 0.05, 0.08, 0.04, 0.02],
    [0, 0, 0, 0, 0, 0, 0, 0.04, 0.09, 0.05, 0.01, 0, 0, 0, 0, 0,
     0, 0, 0, 0, 0, 0, 0, 0, 0.03, 0.06, 0.04, 0.02, 0, 0, 0, 0,
     0, 0, 0, 0, 0, 0, 0, 0, 0, 0, 0, 0.02, 0.04, 0.02, 0, 0,
     0, 0, 0.02, 0.04, 0.03, 0, 0, 0, 0, 0, 0, 0, 0, 0, 0, 0],
]

tick_days = [dt.datetime(2026, 8, 21), dt.datetime(2026, 8, 23), dt.datetime(2026, 8, 25),
             dt.datetime(2026, 8, 27), dt.datetime(2026, 8, 29), dt.datetime(2026, 9, 1),
             dt.datetime(2026, 9, 3), dt.datetime(2026, 9, 5)]
tick_labels = ["21AUG<br>2026", "23AUG", "25AUG", "27AUG", "29AUG", "1SEP", "3SEP", "5SEP"]
temp_ticks = [-30, -25, -20, -15, -10, -5, 0, 5, 10, 15, 20, 25, 30]
temp_tick_labels = ["-30", "-25", "-20", "-15", "-10", "-5", "0", "5", "10", "15", "20", "25", "30"]

FONT = "DejaVu Sans"
RED = "rgba(255,45,45,0.7)"
GREEN = "rgba(40,215,40,0.95)"
PURPLE = "#7f00dc"
BLUE = "#2040ff"
PINK = "#f0007f"


def times(n, step_h, first_h=0):
    return [run_start + dt.timedelta(hours=first_h + step_h * i) for i in range(n)]


fig = go.Figure()

for vals in member_t:
    fig.add_trace(go.Scatter(x=times(len(vals), 6), y=vals, mode="lines",
                             line=dict(color=RED, width=0.8), hoverinfo="skip"))
for vals in member_p:
    fig.add_trace(go.Scatter(x=times(len(vals), 6, 6), y=vals, mode="lines", yaxis="y2",
                             line=dict(color=GREEN, width=0.8), hoverinfo="skip"))

fig.add_trace(go.Scatter(x=times(len(mean_p), 6, 6), y=mean_p, mode="lines", yaxis="y2",
                         line=dict(color=BLUE, width=3)))
fig.add_trace(go.Scatter(x=times(len(control_p), 6, 6), y=control_p, mode="lines", yaxis="y2",
                         line=dict(color="black", width=3)))
fig.add_trace(go.Scatter(x=times(len(climo_t), 24), y=climo_t, mode="lines",
                         line=dict(color=PINK, width=3)))
fig.add_trace(go.Scatter(x=times(len(control_t), 6), y=control_t, mode="lines",
                         line=dict(color="black", width=3)))
fig.add_trace(go.Scatter(x=times(len(oper_t), 3), y=oper_t, mode="lines",
                         line=dict(color=PURPLE, width=3)))
fig.add_trace(go.Scatter(x=times(len(mean_t), 6), y=mean_t, mode="lines",
                         line=dict(color=BLUE, width=3)))


# plot area as seen on the page, in pixels: x 93..1105, y 110..883
def px(x):
    return (x - 93) / 1012.0


def py(y):
    return (883 - y) / 773.0


# text, x, y, x anchor, y anchor, size, colour, vertical
notes = [
    ("Milwaukee Mitchell Int'l Airport", 590, 9, "center", "top", 29, "black", False),
    ("ICAO Code: KMKE", 98, 40, "left", "middle", 22, "black", False),
    ("Coordinates: 42.95, -87.90", 98, 66, "left", "middle", 22, "black", False),
    ("Wisconsin, USA", 98, 92, "left", "middle", 22, "black", False),
    ("Model: 00Z 20AUG2026 GEFS", 1101, 63, "right", "middle", 22, "black", False),
    ("<b>weathertogether.net</b>", 1101, 89, "right", "middle", 22, "#08a0f8", False),
    ("Control", 600, 121, "center", "middle", 18, "black", False),
    ("Operational", 600, 142, "center", "middle", 18, PURPLE, False),
    ("Ensemble Mean", 600, 163, "center", "middle", 18, BLUE, False),
    ("Climatology (1981-2010)", 600, 185, "center", "middle", 18, PINK, False),
    ("850 hPa Temperature (red, °C)", 30, 495, "center", "middle", 31, "black", True),
    ("6-hour Precipitation (green, inches)", 1171, 495, "center", "middle", 31, "black", True),
]
annotations = []
for text, x, y, xanchor, yanchor, size, color, vertical in notes:
    annotations.append(dict(
        text=text, x=px(x), y=py(y), xref="paper", yref="paper",
        xanchor=xanchor, yanchor=yanchor, showarrow=False,
        textangle=90 if vertical else 0,
        font=dict(family=FONT, size=size, color=color),
    ))

# the page body adds 8px on the left and top, so the margins are shifted by that
fig.update_layout(
    width=1200, height=927,
    margin=dict(l=85, r=103, t=102, b=52, autoexpand=False),
    paper_bgcolor="white", plot_bgcolor="white",
    showlegend=False,
    font=dict(family=FONT, color="black"),
    annotations=annotations,
    shapes=[dict(type="rect", xref="paper", yref="paper",
                 x0=px(481), x1=px(719), y0=py(198), y1=1.0,
                 line=dict(color="black", width=1.5), fillcolor="white", layer="above")],
    xaxis=dict(
        type="date", range=[run_start, run_end],
        tickvals=tick_days, ticktext=tick_labels,
        ticks="outside", ticklen=5, tickcolor="black", ticklabelstandoff=-4,
        tickfont=dict(size=14, color="black"),
        showline=True, linecolor="black", linewidth=2.5, mirror=True,
        showgrid=False, zeroline=False, automargin=False,
    ),
    yaxis=dict(
        range=[-30, 30], tickvals=temp_ticks, ticktext=temp_tick_labels,
        ticks="outside", ticklen=5, tickcolor="black", ticklabelstandoff=-3,
        tickfont=dict(size=13, color="black"),
        showline=True, linecolor="black", linewidth=2.5,
        showgrid=True, gridcolor="#a8a8a8", griddash="2px,8px", gridwidth=1.5,
        zeroline=False, automargin=False,
    ),
    yaxis2=dict(
        range=[0, 2], tick0=0, dtick=0.2, overlaying="y", side="right",
        ticks="outside", ticklen=5, tickcolor="black", ticklabelstandoff=-4,
        tickfont=dict(size=13, color="black"),
        showline=True, linecolor="black", linewidth=2.5,
        showgrid=False, zeroline=False, automargin=False,
    ),
)

fig.write_html("out.html")
